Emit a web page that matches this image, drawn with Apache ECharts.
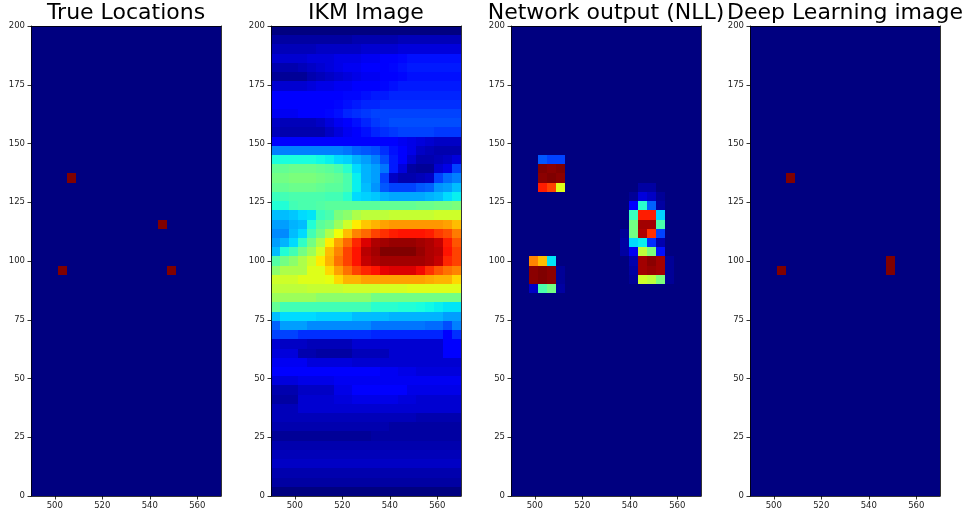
<!DOCTYPE html>
<html>
<head>
<meta charset="utf-8">
<script src="https://cdn.jsdelivr.net/npm/echarts@6/dist/echarts.min.js"></script>
<style>
  html, body { margin: 0; padding: 0; background: #fff; }
  #chart { width: 970px; height: 516px; }
</style>
</head>
<body>
<div id="chart"></div>
<script>
// Panel titles
const panelTitles = ['True Locations', 'IKM Image', 'Network output (NLL)', 'Deep Learning image'];

// Cell centres of the imaging grid (4-unit spacing)
const xCells = [490, 494, 498, 502, 506, 510, 514, 518, 522, 526, 530, 534, 538, 542, 546, 550, 554, 558, 562, 566, 570];
const yCells = [0, 4, 8, 12, 16, 20, 24, 28, 32, 36, 40, 44, 48, 52, 56, 60, 64, 68, 72, 76, 80, 84, 88, 92, 96, 100,
  104, 108, 112, 116, 120, 124, 128, 132, 136, 140, 144, 148, 152, 156, 160, 164, 168, 172, 176, 180, 184, 188, 192, 196, 200];

// Tick labels
const xTicks = [500, 520, 540, 560];
const yTicks = [0, 25, 50, 75, 100, 125, 150, 175, 200];

// Target positions (x, y)
const trueLocations = [[506, 136], [546, 116], [502, 96], [550, 96]];
const deepLearningHits = [[506, 136], [502, 96], [550, 96], [550, 100]];

// Network output (NLL): [x, y, intensity %]
const nllCells = [
  [502, 144, 21], [506, 144, 19], [510, 144, 19],
  [502, 140, 100], [506, 140, 99], [510, 140, 100],
  [502, 136, 99], [506, 136, 100], [510, 136, 99],
  [502, 132, 88], [506, 132, 84], [510, 132, 62],
  [498, 100, 77], [502, 100, 71], [506, 100, 35],
  [498, 96, 99], [502, 96, 100], [506, 96, 99], [510, 96, 2],
  [498, 92, 99], [502, 92, 100], [506, 92, 99], [510, 92, 2],
  [498, 88, 6], [502, 88, 44], [506, 88, 49], [510, 88, 3],
  [546, 132, 3], [550, 132, 3],
  [542, 128, 2], [546, 128, 8], [550, 128, 6], [554, 128, 2],
  [542, 124, 12], [546, 124, 40], [550, 124, 22], [554, 124, 3],
  [542, 120, 42], [546, 120, 88], [550, 120, 88], [554, 120, 33],
  [542, 116, 49], [546, 116, 97], [550, 116, 97], [554, 116, 44],
  [538, 112, 2], [542, 112, 49], [546, 112, 96], [550, 112, 86], [554, 112, 19],
  [538, 108, 3], [542, 108, 34], [546, 108, 36], [550, 108, 17], [554, 108, 4],
  [538, 104, 3], [542, 104, 10], [546, 104, 58], [550, 104, 50], [554, 104, 14],
  [542, 100, 4], [546, 100, 97], [550, 100, 99], [554, 100, 97], [558, 100, 2],
  [542, 96, 3], [546, 96, 97], [550, 96, 98], [554, 96, 97], [558, 96, 2],
  [542, 92, 2], [546, 92, 60], [550, 92, 58], [554, 92, 50], [558, 92, 2]
];

// IKM image intensity (%), rows from y = 200 down to y = 0, columns x = 490 .. 570
const ikmRows = [
  [0, 0, 0, 0, 0, 0, 0, 0, 0, 0, 0, 0, 0, 0, 0, 0, 0, 0, 0, 0, 0],
  [3, 3, 3, 3, 3, 3, 3, 3, 3, 4, 4, 4, 4, 4, 5, 5, 5, 5, 5, 5, 5],
  [5, 5, 5, 5, 5, 6, 6, 6, 6, 6, 7, 7, 7, 7, 8, 8, 8, 8, 8, 8, 8],
  [7, 7, 7, 7, 8, 8, 8, 9, 9, 9, 10, 10, 11, 12, 13, 14, 14, 14, 14, 14, 14],
  [4, 4, 4, 5, 6, 7, 8, 9, 10, 10, 11, 11, 12, 13, 14, 15, 15, 15, 15, 15, 15],
  [2, 2, 2, 2, 4, 5, 6, 7, 8, 9, 10, 10, 11, 12, 13, 14, 14, 14, 14, 14, 14],
  [7, 7, 7, 7, 8, 9, 9, 10, 10, 11, 11, 12, 13, 14, 15, 15, 15, 15, 15, 15, 15],
  [11, 11, 11, 11, 11, 11, 12, 12, 13, 13, 14, 15, 15, 16, 16, 16, 16, 16, 16, 16, 16],
  [11, 11, 11, 11, 11, 12, 12, 13, 14, 15, 16, 16, 17, 17, 17, 17, 17, 17, 17, 17, 17],
  [10, 10, 10, 11, 11, 12, 13, 14, 16, 17, 18, 19, 19, 19, 19, 19, 19, 19, 19, 19, 19],
  [6, 5, 5, 5, 5, 6, 8, 10, 12, 14, 16, 18, 19, 20, 20, 20, 20, 20, 20, 20, 20],
  [5, 4, 4, 4, 4, 4, 6, 8, 10, 12, 14, 16, 17, 18, 19, 19, 19, 19, 18, 18, 18],
  [11, 11, 11, 11, 11, 11, 11, 11, 11, 12, 12, 12, 12, 11, 10, 9, 8, 7, 6, 6, 6],
  [25, 25, 25, 25, 25, 25, 25, 25, 24, 22, 21, 20, 17, 14, 11, 9, 6, 5, 4, 4, 4],
  [38, 38, 38, 38, 38, 37, 36, 34, 33, 30, 28, 25, 20, 15, 11, 7, 4, 4, 5, 6, 8],
  [47, 47, 48, 48, 48, 47, 46, 44, 40, 34, 30, 28, 24, 15, 8, 3, 2, 2, 7, 9, 19],
  [49, 49, 50, 50, 50, 49, 48, 47, 44, 36, 30, 28, 19, 6, 4, 4, 5, 6, 19, 23, 25],
  [47, 47, 48, 48, 48, 47, 46, 46, 44, 36, 31, 27, 21, 19, 19, 19, 21, 22, 27, 28, 31],
  [42, 43, 44, 44, 44, 44, 43, 43, 40, 34, 33, 32, 30, 29, 29, 29, 29, 30, 31, 34, 36],
  [39, 39, 43, 44, 44, 45, 46, 46, 46, 46, 46, 46, 47, 47, 47, 47, 48, 48, 49, 49, 50],
  [31, 31, 32, 34, 35, 42, 44, 50, 52, 56, 58, 58, 58, 59, 59, 59, 59, 59, 60, 60, 60],
  [28, 28, 30, 31, 39, 46, 48, 54, 60, 66, 70, 72, 74, 75, 75, 75, 75, 75, 75, 74, 71],
  [26, 26, 31, 34, 43, 49, 56, 64, 71, 77, 80, 84, 86, 88, 89, 89, 89, 88, 85, 83, 78],
  [28, 30, 34, 41, 49, 56, 66, 74, 80, 87, 92, 96, 97, 98, 98, 98, 97, 96, 94, 88, 82],
  [31, 39, 43, 49, 54, 61, 71, 77, 84, 89, 95, 97, 100, 100, 100, 100, 98, 96, 95, 89, 84],
  [45, 49, 52, 56, 60, 66, 72, 79, 84, 89, 94, 96, 97, 97, 97, 97, 97, 96, 94, 87, 84],
  [52, 56, 56, 56, 62, 62, 68, 74, 79, 84, 87, 89, 91, 92, 92, 92, 90, 86, 82, 79, 77],
  [60, 60, 60, 62, 62, 62, 63, 68, 72, 72, 74, 74, 74, 74, 74, 74, 74, 73, 72, 72, 68],
  [58, 58, 58, 58, 59, 59, 59, 59, 60, 60, 60, 60, 61, 61, 61, 62, 62, 62, 62, 62, 62],
  [54, 54, 54, 54, 54, 52, 52, 52, 52, 52, 52, 49, 49, 49, 49, 49, 49, 49, 49, 49, 49],
  [47, 43, 43, 43, 43, 43, 43, 43, 43, 43, 43, 40, 40, 40, 39, 39, 38, 37, 36, 35, 35],
  [31, 34, 34, 34, 34, 33, 33, 33, 33, 31, 31, 31, 31, 30, 30, 30, 30, 30, 30, 28, 28],
  [22, 28, 28, 28, 26, 26, 26, 26, 26, 26, 26, 24, 24, 24, 24, 24, 24, 23, 23, 20, 25],
  [19, 19, 19, 17, 17, 17, 17, 17, 17, 17, 17, 16, 16, 16, 16, 16, 16, 16, 16, 12, 17],
  [7, 6, 6, 6, 5, 5, 5, 5, 5, 7, 7, 7, 7, 7, 7, 7, 7, 7, 7, 11, 11],
  [8, 8, 8, 4, 4, 3, 3, 3, 3, 5, 5, 5, 5, 7, 7, 7, 7, 7, 7, 11, 11],
  [10, 10, 10, 10, 8, 8, 8, 8, 8, 7, 7, 7, 7, 7, 7, 7, 7, 7, 7, 7, 7],
  [11, 11, 11, 11, 11, 11, 11, 11, 11, 11, 11, 11, 10, 10, 9, 9, 8, 8, 8, 8, 8],
  [8, 8, 8, 9, 9, 9, 9, 10, 10, 10, 10, 10, 10, 10, 10, 10, 10, 10, 10, 10, 10],
  [4, 4, 4, 6, 6, 6, 6, 9, 9, 11, 11, 11, 11, 11, 11, 9, 9, 9, 9, 9, 9],
  [3, 3, 3, 7, 7, 7, 7, 8, 8, 9, 9, 9, 9, 9, 8, 8, 7, 7, 7, 7, 7],
  [5, 5, 5, 7, 7, 7, 7, 7, 7, 7, 7, 7, 7, 7, 7, 7, 7, 7, 7, 7, 7],
  [5, 5, 5, 5, 5, 5, 5, 5, 5, 5, 5, 5, 5, 5, 5, 5, 4, 4, 4, 4, 4],
  [4, 4, 4, 4, 4, 4, 4, 4, 4, 4, 4, 4, 4, 3, 3, 3, 3, 3, 3, 3, 3],
  [2, 2, 2, 2, 2, 2, 2, 2, 2, 2, 2, 3, 3, 3, 3, 3, 3, 3, 3, 3, 3],
  [4, 4, 4, 4, 4, 4, 4, 4, 4, 4, 4, 4, 4, 4, 4, 4, 4, 4, 4, 4, 4],
  [5, 5, 5, 5, 5, 5, 5, 5, 5, 5, 5, 5, 5, 5, 5, 5, 5, 5, 5, 5, 5],
  [6, 6, 6, 6, 6, 6, 6, 6, 6, 6, 6, 6, 6, 6, 6, 6, 6, 6, 6, 6, 6],
  [4, 4, 4, 4, 4, 4, 4, 4, 4, 4, 4, 4, 4, 4, 4, 4, 4, 4, 4, 4, 4],
  [3, 3, 3, 3, 3, 3, 3, 3, 3, 3, 3, 3, 3, 3, 3, 3, 3, 3, 3, 3, 3],
  [0, 0, 0, 0, 0, 0, 0, 0, 0, 0, 0, 0, 0, 0, 0, 0, 0, 0, 0, 0, 0]
];

// ---- colour map (matplotlib "jet" segment definition) ----
function jetChannel(t, pts) {
  for (let k = 1; k < pts.length; k++) {
    if (t <= pts[k][0]) {
      const [t0, v0] = pts[k - 1], [t1, v1] = pts[k];
      return v0 + (v1 - v0) * (t - t0) / (t1 - t0);
    }
  }
  return pts[pts.length - 1][1];
}
function jet(t) {
  const r = jetChannel(t, [[0, 0], [0.35, 0], [0.66, 1], [0.89, 1], [1, 0.5]]);
  const g = jetChannel(t, [[0, 0], [0.125, 0], [0.375, 1], [0.64, 1], [0.91, 0], [1, 0]]);
  const b = jetChannel(t, [[0, 0.5], [0.11, 1], [0.34, 1], [0.65, 0], [1, 0]]);
  return 'rgb(' + [r, g, b].map(v => Math.round(v * 255)).join(',') + ')';
}
const jetColors = [];
for (let k = 0; k <= 200; k++) jetColors.push(jet(k / 200));

// ---- build per-panel cell lists [xIndex, yIndex, value] ----
function blankGrid() {
  const cells = [];
  for (let i = 0; i < xCells.length; i++)
    for (let j = 0; j < yCells.length; j++) cells.push([i, j, 0]);
  return cells;
}
function setCell(cells, x, y, v) {
  const i = xCells.indexOf(x), j = yCells.indexOf(y);
  cells[i * yCells.length + j][2] = v;
}
function pointsGrid(points) {
  const cells = blankGrid();
  points.forEach(p => setCell(cells, p[0], p[1], 100));
  return cells;
}
function nllGrid() {
  const cells = blankGrid();
  nllCells.forEach(p => setCell(cells, p[0], p[1], p[2]));
  return cells;
}
function ikmGrid() {
  const cells = [];
  ikmRows.forEach((row, r) => {
    const j = yCells.length - 1 - r;
    row.forEach((v, i) => cells.push([i, j, v]));
  });
  return cells;
}
const panelData = [pointsGrid(trueLocations), ikmGrid(), nllGrid(), pointsGrid(deepLearningHits)];

// Cell renderer: snaps each cell to whole pixels so neighbours tile without seams
function renderCell(params, api) {
  const c = api.coord([api.value(0), api.value(1)]);
  const s = api.size([1, 1]);
  const x0 = Math.round(c[0] - s[0] / 2), x1 = Math.round(c[0] + s[0] / 2);
  const y0 = Math.round(c[1] - s[1] / 2), y1 = Math.round(c[1] + s[1] / 2);
  return {
    type: 'rect',
    shape: { x: x0, y: y0, width: x1 - x0, height: y1 - y0 },
    style: { fill: api.visual('color'), stroke: null }
  };
}

// ---- layout ----
const panelLefts = [31, 271, 511, 750];
const panelTop = 26, panelWidth = 190, panelHeight = 470;
const lineStyle = { color: '#000', width: 0.8 };
const labelStyle = { color: '#222', fontSize: 8.5, fontFamily: 'DejaVu Sans' };

const option = {
  backgroundColor: '#fff',
  animation: false,
  title: [], grid: [], xAxis: [], yAxis: [], visualMap: [], series: []
};

panelLefts.forEach((left, p) => {
  option.title.push({
    text: panelTitles[p],
    left: left + panelWidth / 2,
    textAlign: 'center',
    top: 2,
    padding: 0,
    textStyle: { fontFamily: 'DejaVu Sans', fontSize: 22, fontWeight: 'normal', color: '#000' }
  });
  option.grid.push({ left: left, top: panelTop, width: panelWidth, height: panelHeight, containLabel: false });

  // hidden category axes carrying the cells
  option.xAxis.push({ type: 'category', gridIndex: p, data: xCells, show: false });
  option.yAxis.push({ type: 'category', gridIndex: p, data: yCells, show: false });

  // visible value axes with ticks and labels
  option.xAxis.push({
    type: 'value', gridIndex: p, min: 490, max: 570, position: 'bottom', z: 10,
    axisLine: { show: true, onZero: false, lineStyle: lineStyle },
    axisTick: { show: true, length: 3.5, customValues: xTicks, lineStyle: lineStyle },
    axisLabel: { show: true, customValues: xTicks, margin: 5, ...labelStyle },
    splitLine: { show: false }
  });
  option.yAxis.push({
    type: 'value', gridIndex: p, min: 0, max: 200, position: 'left', z: 10,
    axisLine: { show: true, onZero: false, lineStyle: lineStyle },
    axisTick: { show: true, length: 3.5, customValues: yTicks, lineStyle: lineStyle },
    axisLabel: { show: true, customValues: yTicks, margin: 6, ...labelStyle },
    splitLine: { show: false }
  });

  // frame on the top and right sides
  option.xAxis.push({
    type: 'value', gridIndex: p, min: 490, max: 570, position: 'top', z: 10,
    axisLine: { show: true, onZero: false, lineStyle: lineStyle },
    axisTick: { show: false }, axisLabel: { show: false }, splitLine: { show: false }
  });
  option.yAxis.push({
    type: 'value', gridIndex: p, min: 0, max: 200, position: 'right', z: 10,
    axisLine: { show: true, onZero: false, lineStyle: lineStyle },
    axisTick: { show: false }, axisLabel: { show: false }, splitLine: { show: false }
  });

  option.visualMap.push({
    type: 'continuous', show: false, seriesIndex: p, dimension: 2,
    min: 0, max: 100, inRange: { color: jetColors }
  });
  option.series.push({
    type: 'custom', name: panelTitles[p],
    xAxisIndex: p * 3, yAxisIndex: p * 3,
    renderItem: renderCell,
    encode: { x: 0, y: 1 },
    data: panelData[p],
    clip: true,
    silent: true
  });
});

const chart = echarts.init(document.getElementById('chart'), null, { renderer: 'canvas' });
chart.setOption(option);
</script>
</body>
</html>
